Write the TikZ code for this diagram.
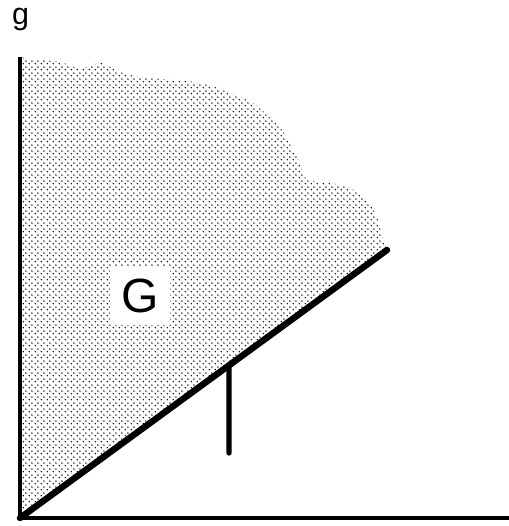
\documentclass[tikz,border=0pt]{standalone}
\usepackage{fontspec}
\setmainfont{Liberation Sans}
\usetikzlibrary{patterns,calc}

\pgfdeclarepatternformonly{stipple}{\pgfpointorigin}{\pgfpoint{4.8pt}{4.8pt}}{\pgfpoint{4.8pt}{4.8pt}}%
{
 \pgfpathcircle{\pgfpoint{1.2pt}{1.2pt}}{0.7pt}
 \pgfpathcircle{\pgfpoint{3.6pt}{3.6pt}}{0.7pt}
 \pgfusepath{fill}
}

\begin{document}
\begin{tikzpicture}[
 x=0.03cm,y=0.03cm,
 every node/.style={font=\fontsize{26}{30}\selectfont},
 axis/.style={line width=3pt},
 bound/.style={line width=5.5pt,line cap=round},
 region/.style={pattern=stipple,pattern color=black}
]
 \useasboundingbox (-20,-8) rectangle (489,518);

 \coordinate (O) at (0,0);
 \coordinate (top) at (0,461);
 \coordinate (right) at (489,0);
 \coordinate (D) at (367,268);

 % shaded set above the bound line, ragged upper edge
 \fill[region] (O) -- (top) --
  plot[smooth] coordinates
  {(0,461) (12,459) (40,456) (58,450) (72,452) (80,456) (92,450)
   (110,443) (150,438) (175,436) (195,431) (215,423) (233,415)
   (247,403) (262,388) (272,370) (280,356) (283,343) (292,337)
   (310,335) (328,331) (342,322) (352,311) (358,298) (362,283) (367,268)}
  -- (D) -- cycle;

 \draw[axis] (top) -- (O) -- (right);
 \draw[bound] (O) -- (D);

 \coordinate (foot) at ($(O)!0.5695!(D)$);
 \coordinate (Tb) at (209,65);
 \draw[line width=4.5pt,line cap=round] (foot) -- (Tb);

 \node[anchor=base west] (glabel) at (-12,493) {g};
 \node[fill=white,minimum width=60*0.03cm,minimum height=58*0.03cm,
  font=\fontsize{41}{44}\selectfont] (Glabel) at (120,222) {G};
\end{tikzpicture}
\end{document}
